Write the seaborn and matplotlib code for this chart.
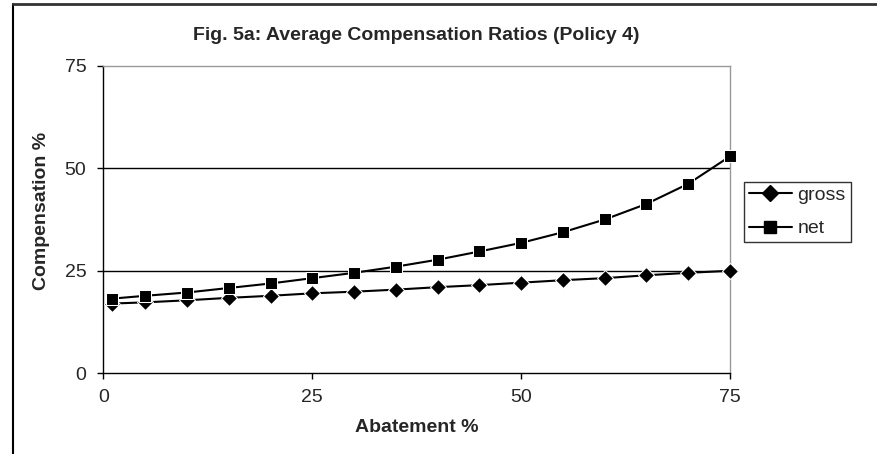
import matplotlib
matplotlib.use("Agg")
import matplotlib.pyplot as plt
import seaborn as sns
import pandas as pd
from matplotlib.lines import Line2D

abatement = [1, 5, 10, 15, 20, 25, 30, 35, 40, 45, 50, 55, 60, 65, 70, 75]
gross = [17.0, 17.3, 17.8, 18.4, 18.9, 19.5, 19.9, 20.4, 21.0, 21.5, 22.1, 22.7, 23.2, 23.9, 24.5, 25.0]
net = [18.2, 18.9, 19.7, 20.8, 21.9, 23.2, 24.5, 26.0, 27.7, 29.7, 31.8, 34.4, 37.5, 41.3, 46.2, 52.9]
series_names = ["gross", "net"]
ticks = [0, 25, 50, 75]

sns.set_theme(style="white")
plt.rcParams['font.family'] = ['Liberation Sans', 'DejaVu Sans']

df = pd.DataFrame({
    "Abatement": abatement * 2,
    "value": gross + net,
    "series": ["gross"] * len(abatement) + ["net"] * len(abatement),
})

FS = 14
fig = plt.figure(figsize=(8.78, 4.54), dpi=100)
ax = fig.add_axes([103.5 / 878, 80.7 / 454, (730 - 103.5) / 878, (373.3 - 65.7) / 454])

sns.lineplot(data=df, x="Abatement", y="value", hue="series", style="series",
             markers={"gross": "D", "net": "s"}, dashes=False,
             palette={"gross": "black", "net": "black"},
             markersize=8, linewidth=1.5, ax=ax, legend=False)
for ln in ax.get_lines():
    ln.set_clip_on(False)
    ln.set_zorder(3)
    if ln.get_marker() == "D":
        ln.set_markersize(8.5)
    elif ln.get_marker() == "s":
        ln.set_markersize(9)

ax.set_xlim(0, 75)
ax.set_ylim(0, 75)
ax.set_xticks(ticks)
ax.set_yticks(ticks)
ax.set_xticklabels([str(t) for t in ticks], fontsize=FS)
ax.set_yticklabels([str(t) for t in ticks], fontsize=FS)
ax.tick_params(axis="both", direction="out", length=4.3, width=1, color="black",
               bottom=True, left=True)
ax.tick_params(axis="y", pad=8)
ax.tick_params(axis="x", pad=7)
for y in [25, 50]:
    ax.axhline(y, color="black", linewidth=1, zorder=0)

ax.spines["left"].set_color("black")
ax.spines["bottom"].set_color("black")
ax.spines["top"].set_color("#999999")
ax.spines["right"].set_color("#999999")
for s in ax.spines.values():
    s.set_linewidth(1)
    s.set_visible(True)

ax.set_xlabel("")
ax.set_ylabel("")
fig.text(416.7 / 878, 1 - 427 / 454, "Abatement %", ha="center", va="center",
         fontsize=FS, fontweight="bold")
fig.text(42 / 878, 1 - 211 / 454, "Compensation %", ha="center", va="center",
         rotation=90, fontsize=FS, fontweight="bold")

fig.text(416.7 / 878, 1 - 35 / 454, "Fig. 5a: Average Compensation Ratios (Policy 4)",
         ha="center", va="center", fontsize=FS, fontweight="bold")

handles = [Line2D([], [], color="black", marker="D", markersize=8, linewidth=1.5),
           Line2D([], [], color="black", marker="s", markersize=8.5, linewidth=1.5)]
leg = fig.legend(handles, series_names, loc="upper left",
                 bbox_to_anchor=(744 / 878, 1 - 181.7 / 454), borderaxespad=0,
                 fontsize=FS, frameon=True, fancybox=False, edgecolor="black",
                 borderpad=0.25, handlelength=2.2, labelspacing=0.8, handletextpad=0.3)
leg.get_frame().set_linewidth(1)

# outer chart frame (partially visible)
fig.add_artist(Line2D([13 / 878, 13 / 878], [0, 1 - 4 / 454], transform=fig.transFigure,
                      color="black", linewidth=1.5))
fig.add_artist(Line2D([13 / 878, 1], [1 - 4 / 454, 1 - 4 / 454], transform=fig.transFigure,
                      color="#333333", linewidth=2))

fig.savefig("out.png", dpi=100)
